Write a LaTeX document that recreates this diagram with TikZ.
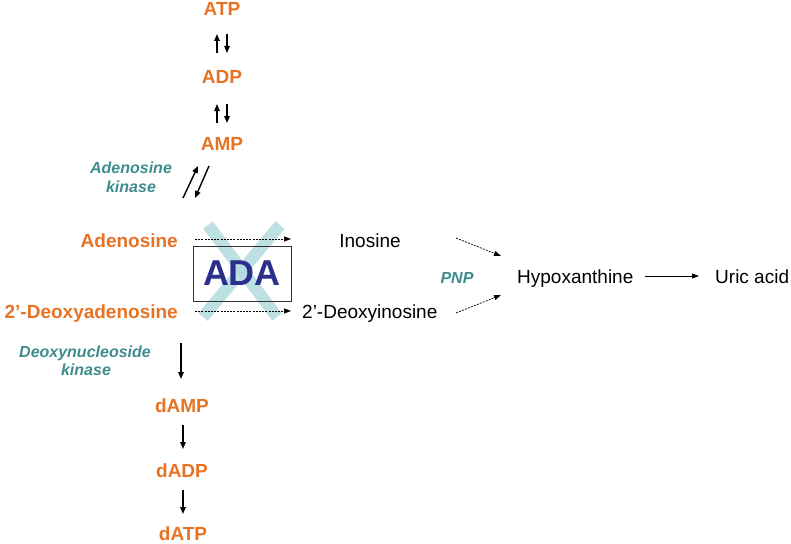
\documentclass[tikz,border=0pt]{standalone}
\usepackage{fontspec}
\setmainfont{Liberation Sans}
\usetikzlibrary{arrows.meta}
\definecolor{orng}{RGB}{232,114,36}
\definecolor{tealc}{RGB}{62,140,142}
\definecolor{navy}{RGB}{44,48,140}
\definecolor{xblue}{RGB}{178,218,222}
\tikzset{
  met/.style={font=\fontsize{19}{22}\selectfont\bfseries, text=orng, inner sep=0pt},
  prod/.style={font=\fontsize{19}{22}\selectfont, text=black, inner sep=0pt},
  enz/.style={font=\fontsize{16}{19}\selectfont\bfseries\itshape, text=tealc, inner sep=0pt, align=center},
  solidarr/.style={line width=1.4pt, -{Triangle[length=7pt,width=5.5pt]}},
  dasharr/.style={line width=0.7pt, dash pattern=on 2pt off 1.2pt, -{Triangle[length=7pt,width=5pt]}},
}
\begin{document}
\begin{tikzpicture}[x=1pt,y=-1pt]
\useasboundingbox (0,0) rectangle (791,543);
% metabolites
\node[met, anchor=base] (atp) at (222,16) {ATP};
\node[met, anchor=base] (adp) at (222,83) {ADP};
\node[met, anchor=base] (amp) at (222,150) {AMP};
\node[met, anchor=base east] (ado) at (178,247) {Adenosine};
\node[met, anchor=base east] (dado) at (178,318) {2’-Deoxyadenosine};
\node[met, anchor=base] (damp) at (182,412) {dAMP};
\node[met, anchor=base] (dadp) at (182,477) {dADP};
\node[met, anchor=base] (datp) at (183,540) {dATP};
\node[prod, anchor=base] (ino) at (370,247) {Inosine};
\node[prod, anchor=base west] (dino) at (302,318) {2’-Deoxyinosine};
\node[prod, anchor=base west] (hyp) at (517,283) {Hypoxanthine};
\node[prod, anchor=base west] (uric) at (715,283) {Uric acid};
% enzymes
\node[enz, anchor=base] (adk1) at (131,173) {Adenosine};
\node[enz, anchor=base] (adk2) at (131,192) {kinase};
\node[enz, anchor=base] (dk1) at (85,357) {Deoxynucleoside};
\node[enz, anchor=base] (dk2) at (86,375) {kinase};
\node[enz, anchor=base] (pnp) at (457,283) {PNP};
% ADA crossed box
\draw[xblue, line width=12pt, opacity=0.85] (208,225) -- (277,317);
\draw[xblue, line width=12pt, opacity=0.85] (280,225) -- (203,317);
\node[draw=black!80, line width=0.8pt, minimum width=98pt, minimum height=55pt, inner sep=0pt] (adabox) at (242,273.5) {};
\node[font=\fontsize{36}{40}\selectfont\bfseries, text=navy, inner sep=0pt] (ada) at (adabox.center) {ADA};
% arrow endpoints
\coordinate (a1u0) at (217,53); \coordinate (a1u1) at (217,34);
\coordinate (a1d0) at (227,34); \coordinate (a1d1) at (227,53);
\coordinate (a2u0) at (217,123); \coordinate (a2u1) at (217,104);
\coordinate (a2d0) at (227,104); \coordinate (a2d1) at (227,123);
\coordinate (a3u0) at (183,198); \coordinate (a3u1) at (198,166);
\coordinate (a3d0) at (209,166); \coordinate (a3d1) at (195,198);
\coordinate (d1a) at (195,239); \coordinate (d1b) at (291,239);
\coordinate (d2a) at (195,311); \coordinate (d2b) at (291,311);
\coordinate (p1a) at (456,238); \coordinate (p1b) at (501,256);
\coordinate (p2a) at (456,313); \coordinate (p2b) at (501,295);
\coordinate (ha) at (645,276); \coordinate (hb) at (699,276);
\coordinate (k1a) at (181,343); \coordinate (k1b) at (181,379);
\coordinate (k2a) at (183,425); \coordinate (k2b) at (183,449);
\coordinate (k3a) at (183,490); \coordinate (k3b) at (183,514);
% solid arrows
\draw[solidarr] (a1u0) -- (a1u1);
\draw[solidarr] (a1d0) -- (a1d1);
\draw[solidarr] (a2u0) -- (a2u1);
\draw[solidarr] (a2d0) -- (a2d1);
\draw[solidarr] (a3u0) -- (a3u1);
\draw[solidarr] (a3d0) -- (a3d1);
\draw[solidarr] (k1a) -- (k1b);
\draw[solidarr] (k2a) -- (k2b);
\draw[solidarr] (k3a) -- (k3b);
\draw[line width=0.9pt, -{Triangle[length=7pt,width=5pt]}] (ha) -- (hb);
% dashed arrows
\draw[dasharr] (d1a) -- (d1b);
\draw[dasharr] (d2a) -- (d2b);
\draw[dasharr] (p1a) -- (p1b);
\draw[dasharr] (p2a) -- (p2b);
\end{tikzpicture}
\end{document}
